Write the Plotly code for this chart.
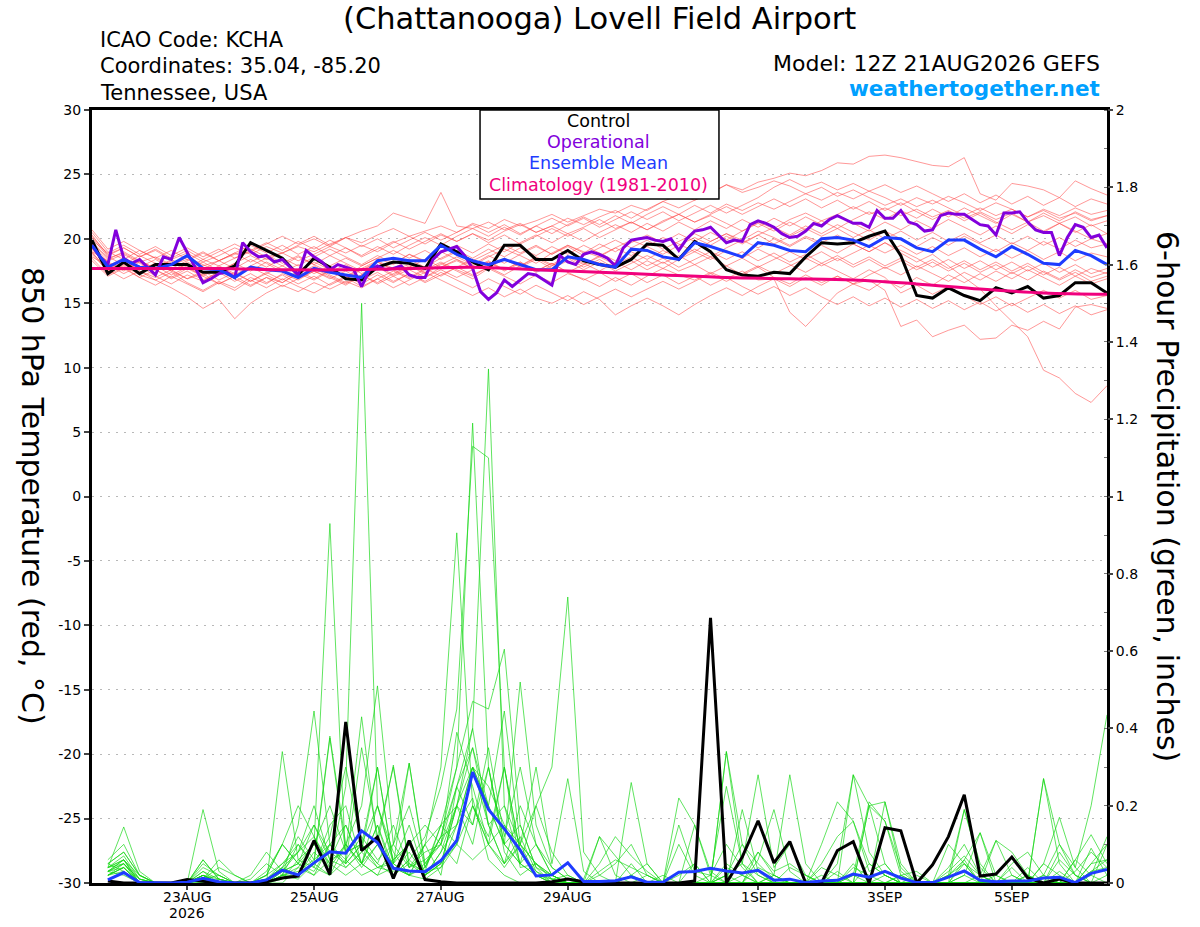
import numpy as np
import pandas as pd
import plotly.graph_objects as go

START = pd.Timestamp("2026-08-21 12:00")
END = pd.Timestamp("2026-09-06 12:00")

# 850 hPa temperature (deg C), 6-hourly from 12Z 21AUG (0h .. 384h)
control_temp = [
    19.9, 17.3, 18.2, 17.3, 18.0, 18.0, 18.0, 17.4, 17.4, 17.9, 19.7, 19.1, 18.5,
    17.2, 18.5, 17.8, 16.9, 16.8, 17.8, 18.2, 18.1, 17.7, 19.6, 19.0, 18.2, 17.6,
    19.5, 19.5, 18.4, 18.4, 19.1, 18.3, 18.0, 17.8, 18.4, 19.6, 19.5, 18.4, 19.8,
    19.0, 17.6, 17.2, 17.1, 17.4, 17.3, 18.6, 19.7, 19.6, 19.7, 20.2, 20.6, 18.7,
    15.6, 15.4, 16.2, 15.6, 15.2, 16.2, 15.8, 16.3, 15.4, 15.6, 16.6, 16.6, 15.8,
]
mean_temp = [
    19.5, 17.8, 18.4, 17.8, 17.7, 18.0, 18.7, 17.7, 17.6, 17.0, 17.8, 17.6, 17.5,
    17.0, 17.7, 17.4, 17.2, 17.0, 18.3, 18.5, 18.3, 18.3, 19.5, 18.8, 18.3, 18.0,
    18.4, 18.0, 17.6, 17.6, 18.6, 18.4, 18.0, 17.8, 19.2, 19.1, 18.6, 18.4, 19.7,
    19.4, 19.0, 18.6, 19.7, 19.5, 19.1, 19.0, 20.0, 20.1, 19.9, 19.4, 20.1, 20.0,
    19.3, 19.0, 19.9, 19.9, 19.2, 18.6, 19.4, 18.8, 18.1, 18.0, 19.1, 18.7, 18.0,
]
# operational run, 3-hourly
oper_temp = [
    19.5, 18.6, 18.0, 20.7, 18.5, 18.1, 18.4, 17.8, 17.2, 18.6, 18.4, 20.1, 19.0, 17.8, 16.6, 16.9,
    17.3, 17.4, 17.0, 19.7, 19.0, 18.6, 18.7, 18.2, 18.4, 17.8, 17.2, 19.1, 18.6, 18.2, 17.6, 18.0,
    17.8, 17.6, 16.3, 17.6, 17.9, 17.6, 17.7, 17.9, 17.2, 17.0, 17.0, 18.4, 19.0, 19.2, 19.4, 18.7,
    17.7, 15.9, 15.3, 15.8, 16.8, 16.3, 16.8, 17.3, 17.2, 16.8, 16.4, 18.7, 18.2, 18.0, 18.8, 19.0,
    18.8, 18.5, 17.9, 19.3, 19.9, 20.0, 20.1, 19.9, 19.8, 20.0, 19.1, 20.0, 20.6, 20.7, 20.9, 20.3,
    19.7, 19.9, 19.8, 21.1, 21.4, 21.2, 20.9, 20.4, 20.1, 20.2, 20.6, 21.2, 21.0, 21.5, 21.8, 21.5,
    21.2, 21.2, 20.9, 22.2, 21.6, 21.6, 22.2, 21.3, 21.1, 20.6, 20.7, 21.8, 22.0, 21.9, 21.9, 21.5,
    21.1, 21.0, 20.3, 22.0, 22.0, 22.1, 21.3, 20.7, 20.5, 20.5, 18.7, 20.1, 21.1, 20.9, 20.1, 20.3,
    19.3,
]
# 1981-2010 climatology, daily
clim_temp = [17.7, 17.7, 17.7, 17.6, 17.6, 17.7, 17.8, 17.6, 17.4,
             17.2, 17.0, 16.9, 16.8, 16.5, 16.1, 15.8, 15.7]

member_temp = [
    [19.8, 18.5, 18.9, 18.2, 18.6, 18.0, 18.4, 17.9, 18.3, 18.8, 19.2, 18.6, 18.9,
     19.4, 19.0, 19.6, 20.1, 19.7, 20.3, 20.8, 20.2, 20.6, 21.0, 20.5, 21.2, 20.8,
     21.5, 21.0, 21.4, 21.9, 21.3, 21.8, 22.3, 22.0, 22.6, 22.2, 22.9, 23.4, 23.0,
     23.6, 24.2, 23.8, 24.4, 24.7, 25.1, 24.9, 25.3, 25.9, 25.8, 26.4, 26.5, 26.3,
     26.0, 25.7, 25.6, 26.3, 23.5, 23.0, 24.3, 24.1, 23.8, 23.2, 24.5, 23.9, 23.4],
    [19.2, 17.8, 18.4, 17.5, 17.0, 17.6, 16.9, 17.3, 16.5, 17.1, 17.8, 17.2, 16.6,
     17.4, 18.2, 17.6, 17.0, 17.9, 18.5, 18.0, 18.8, 18.3, 19.0, 18.4, 17.9, 18.6,
     19.2, 18.7, 18.1, 18.9, 19.5, 19.0, 18.6, 19.3, 19.9, 19.4, 20.1, 19.6, 19.0,
     19.8, 20.4, 19.9, 20.6, 20.1, 19.5, 20.2, 19.7, 20.3, 19.6, 19.0, 19.7, 18.9,
     18.2, 18.8, 17.9, 17.0, 16.1, 14.8, 13.6, 12.4, 9.8, 9.2, 8.0, 7.3, 8.6],
    [18.8, 17.5, 17.9, 17.2, 16.8, 17.4, 16.6, 16.0, 16.7, 16.2, 17.0, 16.5, 17.3,
     16.8, 17.5, 17.0, 16.4, 17.2, 17.8, 17.1, 17.6, 17.0, 17.8, 18.3, 17.7, 18.2,
     17.5, 18.1, 17.4, 17.9, 18.5, 17.8, 18.4, 17.7, 18.3, 17.6, 18.2, 17.5, 18.0,
     17.3, 17.9, 17.2, 17.8, 17.0, 16.5, 17.2, 16.6, 17.1, 16.5, 16.8, 16.0, 13.2,
     13.7, 12.4, 12.9, 13.3, 12.2, 12.3, 13.3, 12.9, 13.6, 13.0, 14.7, 14.9, 14.6],
    [19.5, 18.0, 17.3, 17.9, 17.1, 16.5, 17.2, 16.7, 17.5, 16.9, 16.3, 17.0, 16.6,
     17.3, 16.8, 17.5, 16.9, 17.6, 18.2, 17.6, 18.0, 17.4, 18.1, 17.5, 16.9, 17.7,
     17.1, 16.5, 17.2, 16.6, 17.3, 16.9, 16.3, 17.0, 16.4, 17.1, 17.7, 17.2, 16.8,
     17.4, 16.9, 17.5, 16.8, 16.9, 14.3, 13.2, 14.5, 15.8, 16.5, 16.0, 16.8, 16.2,
     17.0, 16.4, 17.2, 16.6, 17.3, 16.7, 17.4, 16.8, 17.5, 16.9, 17.6, 17.0, 17.4],
    [20.2, 18.8, 19.3, 18.6, 19.1, 18.4, 18.9, 18.2, 18.7, 19.3, 18.8, 19.4, 18.9,
     19.5, 20.0, 19.4, 20.1, 20.6, 21.0, 22.0, 21.6, 21.2, 23.6, 21.0, 20.8, 21.3,
     20.7, 21.2, 20.5, 21.0, 20.4, 20.9, 21.5, 20.8, 21.3, 20.7, 21.4, 21.9, 21.3,
     21.8, 21.2, 20.6, 21.3, 20.8, 21.5, 22.0, 21.4, 21.9, 22.5, 21.9, 22.4, 21.8,
     22.3, 21.7, 22.2, 21.6, 22.1, 21.5, 22.0, 21.3, 21.8, 21.2, 21.7, 21.0, 21.4],
    [19.0, 18.3, 18.8, 18.1, 17.6, 18.2, 17.7, 18.4, 17.9, 18.5, 19.0, 18.4, 18.9,
     18.3, 18.8, 19.4, 18.9, 19.5, 19.0, 19.7, 20.2, 19.6, 20.3, 19.8, 20.4, 19.9,
     20.6, 21.1, 20.5, 21.0, 21.6, 21.1, 21.7, 22.2, 21.6, 22.3, 22.9, 22.4, 23.0,
     23.5, 24.2, 23.6, 24.0, 24.5, 24.1, 23.5, 24.0, 23.3, 23.8, 23.2, 22.6, 23.1,
     22.5, 23.0, 22.4, 21.8, 22.4, 21.8, 22.3, 21.7, 22.2, 21.6, 22.0, 21.4, 21.8],
    [18.5, 17.2, 17.8, 17.0, 16.4, 17.1, 16.5, 15.9, 16.6, 16.0, 16.8, 16.2, 16.9,
     16.3, 15.8, 16.5, 17.1, 16.5, 17.2, 16.6, 17.3, 16.7, 17.4, 16.8, 16.2, 16.9,
     16.3, 15.7, 16.4, 15.8, 15.2, 15.9, 15.3, 14.1, 14.8, 15.4, 14.8, 14.1, 14.9,
     15.6, 16.2, 15.6, 16.3, 16.9, 16.3, 17.0, 16.4, 17.1, 16.5, 17.2, 17.8, 17.2,
     17.9, 17.3, 16.7, 17.4, 16.8, 17.5, 16.9, 17.6, 17.0, 16.4, 17.1, 16.5, 16.9],
    [19.3, 17.6, 16.9, 17.5, 16.8, 16.2, 15.5, 14.6, 15.3, 13.8, 15.0, 15.8, 16.4,
     15.9, 16.6, 16.1, 16.7, 16.2, 16.9, 17.5, 16.9, 17.6, 18.2, 17.6, 17.1, 17.8,
     17.2, 17.9, 18.5, 17.9, 18.6, 18.0, 18.7, 19.3, 18.7, 19.4, 18.8, 19.5, 20.1,
     19.5, 20.2, 19.6, 20.3, 20.9, 20.3, 21.0, 20.4, 21.1, 20.5, 19.9, 20.6, 20.0,
     19.4, 20.1, 19.5, 20.2, 19.6, 19.0, 19.7, 19.1, 19.8, 19.2, 19.9, 19.3, 19.6],
    [20.5, 19.0, 18.4, 19.1, 18.5, 17.9, 18.6, 18.0, 17.4, 18.1, 17.5, 18.2, 17.6,
     17.0, 17.7, 17.1, 16.5, 17.2, 16.6, 17.3, 17.9, 17.3, 18.0, 18.6, 18.0, 18.7,
     18.1, 18.8, 19.4, 18.8, 19.5, 18.9, 19.6, 19.0, 19.7, 20.3, 19.7, 20.4, 19.8,
     20.5, 19.9, 20.6, 21.2, 20.6, 21.3, 20.7, 21.4, 20.8, 21.5, 22.1, 21.5, 22.2,
     21.6, 22.3, 21.7, 22.4, 21.8, 21.2, 21.9, 21.3, 22.0, 21.4, 22.1, 21.5, 21.8],
    [19.6, 18.2, 17.6, 18.3, 17.7, 18.4, 17.8, 17.2, 17.9, 17.3, 16.7, 17.4, 16.8,
     17.5, 16.9, 17.6, 17.0, 17.7, 18.3, 17.7, 18.4, 17.8, 18.5, 19.1, 18.5, 19.2,
     18.6, 19.3, 18.7, 19.4, 18.8, 19.5, 18.9, 18.3, 19.0, 18.4, 19.1, 18.5, 19.2,
     18.6, 19.3, 19.9, 19.3, 20.0, 19.4, 20.1, 19.5, 18.9, 19.6, 19.0, 19.7, 19.1,
     18.5, 17.8, 18.4, 17.7, 18.3, 17.6, 18.2, 17.5, 18.1, 17.4, 18.0, 17.3, 17.7],
    [19.9, 18.9, 19.5, 18.8, 19.4, 18.7, 19.3, 18.6, 19.2, 18.5, 19.1, 19.7, 19.1,
     19.8, 19.2, 19.9, 19.3, 18.7, 19.4, 18.8, 19.5, 20.1, 19.5, 20.2, 20.8, 20.2,
     20.9, 20.3, 21.0, 20.4, 21.1, 21.7, 21.1, 21.8, 21.2, 21.9, 22.5, 21.9, 22.6,
     22.0, 22.7, 22.2, 22.8, 22.3, 22.9, 23.5, 23.0, 23.6, 23.1, 23.7, 23.2, 22.6,
     23.2, 22.7, 23.3, 22.8, 22.2, 22.8, 22.3, 21.7, 22.3, 21.8, 22.4, 21.9, 22.2],
    [18.9, 17.7, 18.2, 17.6, 18.1, 17.5, 16.9, 17.5, 16.8, 17.4, 16.7, 17.3, 17.9,
     17.3, 17.9, 17.2, 16.6, 17.2, 16.5, 17.1, 16.4, 17.0, 17.6, 17.0, 17.6, 18.2,
     17.6, 18.2, 17.5, 18.1, 17.4, 16.8, 17.4, 16.7, 17.3, 16.6, 17.2, 16.5, 17.1,
     16.4, 17.0, 16.3, 15.7, 16.3, 15.6, 16.2, 15.5, 14.9, 15.5, 14.8, 15.4, 14.7,
     15.3, 14.6, 15.2, 14.5, 15.1, 14.4, 15.0, 14.3, 14.9, 14.2, 14.8, 14.1, 14.5],
    [20.1, 18.6, 18.0, 18.7, 18.1, 17.5, 18.2, 17.6, 18.3, 17.7, 18.4, 17.8, 18.5,
     17.9, 18.6, 19.2, 18.6, 18.0, 18.7, 18.1, 18.8, 18.2, 18.9, 19.5, 18.9, 19.6,
     19.0, 19.7, 20.3, 19.7, 20.4, 19.8, 20.5, 21.1, 20.5, 21.2, 20.6, 21.3, 20.7,
     21.4, 20.8, 21.5, 20.9, 21.6, 21.0, 21.7, 21.1, 21.8, 21.2, 20.6, 21.3, 20.7,
     21.4, 20.8, 21.5, 20.9, 20.3, 21.0, 20.4, 21.1, 20.5, 21.2, 20.6, 20.0, 20.4],
    [18.6, 17.9, 18.5, 17.8, 18.4, 17.7, 18.3, 18.9, 18.3, 18.9, 18.2, 18.8, 18.1,
     18.7, 18.0, 17.4, 18.0, 17.3, 17.9, 17.2, 17.8, 18.4, 17.8, 18.4, 17.7, 18.3,
     17.6, 18.2, 17.5, 18.1, 17.4, 18.0, 18.6, 18.0, 18.6, 17.9, 18.5, 17.8, 18.4,
     19.0, 18.4, 19.0, 18.3, 18.9, 18.2, 18.8, 18.1, 18.7, 18.0, 18.6, 17.9, 18.5,
     17.8, 18.4, 17.7, 18.3, 17.6, 18.2, 17.5, 18.1, 17.4, 16.8, 17.4, 16.7, 17.1],
    [19.4, 18.1, 17.5, 18.2, 17.6, 17.0, 17.7, 17.1, 17.8, 17.2, 17.9, 18.5, 17.9,
     18.6, 18.0, 18.7, 18.1, 17.5, 18.2, 17.6, 17.0, 17.7, 17.1, 17.8, 18.4, 17.8,
     18.5, 17.9, 18.6, 18.0, 18.7, 18.1, 17.5, 18.2, 17.6, 18.3, 17.7, 18.4, 19.0,
     18.4, 19.1, 18.5, 19.2, 18.6, 18.0, 17.4, 18.1, 17.5, 16.9, 17.6, 17.0, 15.8,
     16.4, 15.7, 16.3, 15.6, 14.9, 15.5, 14.8, 15.4, 16.0, 15.4, 16.0, 15.3, 15.6],
    [20.7, 19.2, 19.8, 19.1, 18.5, 19.1, 18.4, 19.0, 18.3, 18.9, 19.5, 18.9, 19.5,
     18.8, 19.4, 18.7, 19.3, 18.6, 19.2, 19.8, 19.2, 19.8, 20.4, 19.8, 20.4, 19.7,
     20.3, 19.6, 20.2, 20.8, 20.2, 20.8, 20.1, 20.7, 21.3, 20.7, 21.3, 21.9, 21.3,
     21.9, 22.5, 21.9, 22.5, 23.1, 22.5, 23.1, 22.4, 23.0, 22.3, 22.9, 22.2, 22.8,
     22.1, 21.5, 22.1, 21.4, 22.0, 21.3, 20.7, 21.3, 20.6, 21.2, 20.5, 21.1, 20.4],
    [19.0, 17.4, 18.0, 17.3, 17.9, 17.2, 17.8, 17.1, 16.5, 17.1, 16.4, 17.0, 16.3,
     16.9, 17.5, 16.9, 17.5, 16.8, 17.4, 16.7, 17.3, 16.6, 17.2, 17.8, 17.2, 17.8,
     18.4, 17.8, 18.4, 17.7, 18.3, 17.6, 18.2, 17.5, 18.1, 18.7, 18.1, 18.7, 18.0,
     18.6, 17.9, 18.5, 17.8, 18.4, 19.0, 18.4, 19.0, 18.3, 18.9, 19.5, 18.9, 19.5,
     18.8, 19.4, 18.7, 19.3, 18.6, 19.2, 18.5, 19.1, 18.4, 19.0, 18.3, 18.9, 18.6],
    [19.7, 18.4, 19.0, 18.3, 17.7, 18.3, 17.6, 18.2, 17.5, 18.1, 18.7, 18.1, 17.4,
     18.0, 17.3, 17.9, 18.5, 17.9, 18.5, 19.1, 18.5, 19.1, 18.4, 19.0, 18.3, 18.9,
     19.5, 18.9, 19.5, 18.8, 19.4, 18.7, 19.3, 19.9, 19.3, 19.9, 19.2, 19.8, 20.4,
     19.8, 20.4, 19.7, 20.3, 19.6, 20.2, 20.8, 20.2, 20.8, 20.1, 20.7, 20.0, 20.6,
     19.9, 20.5, 19.8, 20.4, 19.7, 20.3, 19.6, 20.2, 19.5, 20.1, 19.4, 20.0, 19.6],
    [18.3, 17.1, 17.7, 17.0, 17.6, 16.9, 17.5, 16.8, 17.4, 16.7, 17.3, 16.6, 17.2,
     16.5, 17.1, 16.4, 17.0, 16.3, 16.9, 16.2, 16.8, 17.4, 16.8, 16.2, 15.6, 16.2,
     15.5, 16.1, 15.4, 15.0, 15.6, 14.9, 15.5, 16.1, 15.5, 16.1, 16.7, 16.1, 16.7,
     17.3, 16.7, 17.3, 17.9, 17.3, 17.9, 18.5, 17.9, 18.5, 17.8, 18.4, 17.7, 18.3,
     17.6, 18.2, 17.5, 18.1, 17.4, 18.0, 17.3, 17.9, 17.2, 17.8, 17.1, 17.7, 17.3],
    [20.3, 18.7, 19.3, 18.6, 19.2, 18.5, 19.1, 18.4, 19.0, 19.6, 19.0, 19.6, 20.2,
     19.6, 20.2, 19.5, 20.1, 19.4, 20.0, 19.3, 19.9, 20.5, 19.9, 20.5, 21.1, 20.5,
     21.1, 20.4, 21.0, 21.6, 21.0, 21.6, 20.9, 21.5, 22.1, 21.5, 22.1, 21.4, 22.0,
     22.6, 22.0, 22.6, 23.2, 24.0, 24.6, 24.0, 24.4, 23.8, 24.3, 23.7, 24.2, 23.6,
     24.1, 23.5, 22.9, 23.5, 22.8, 23.4, 22.7, 23.3, 22.6, 23.2, 22.5, 23.1, 22.7],
]

# 6-hour precipitation (inches), 6h .. 384h
control_precip = [
    0.005, 0, 0, 0, 0, 0.009, 0.004, 0, 0, 0, 0.003, 0.013, 0.018, 0.11, 0.022, 0.417,
    0.084, 0.119, 0.012, 0.11, 0.009, 0.003, 0, 0, 0, 0, 0, 0, 0.003, 0.01, 0.003, 0,
    0, 0, 0, 0, 0, 0.005, 0.686, 0, 0.067, 0.161, 0.052, 0.107, 0, 0, 0.084, 0.107,
    0, 0.143, 0.135, 0, 0.047, 0.12, 0.228, 0.018, 0.023, 0.067, 0.013, 0, 0.01, 0, 0, 0,
]
mean_precip = [
    0.008, 0.027, 0.001, 0, 0, 0.002, 0.012, 0.003, 0, 0, 0.008, 0.033, 0.021, 0.052, 0.081, 0.077,
    0.135, 0.105, 0.038, 0.031, 0.029, 0.058, 0.11, 0.287, 0.19, 0.14, 0.085, 0.018, 0.021, 0.052, 0.004, 0.004,
    0.006, 0.016, 0.002, 0.002, 0.028, 0.03, 0.038, 0.031, 0.026, 0.033, 0.007, 0.01, 0.001, 0.005, 0.007, 0.023,
    0.015, 0.03, 0.013, 0.001, 0.001, 0.015, 0.031, 0.007, 0.003, 0.005, 0.005, 0.013, 0.015, 0.001, 0.025, 0.035,
]
member_precip = [
    [0.03, 0.06, 0, 0, 0, 0, 0.02, 0, 0, 0, 0.01, 0.05, 0.08, 0.12, 0.04, 0.25,
     1.50, 0.20, 0.06, 0.10, 0.02, 0.08, 0.15, 0.22, 0.06, 0.02, 0, 0, 0, 0.01, 0, 0,
     0, 0, 0.02, 0, 0, 0, 0, 0.05, 0.02, 0, 0, 0, 0, 0, 0.03, 0,
     0, 0, 0, 0, 0, 0.04, 0.1, 0.02, 0, 0, 0, 0, 0.03, 0, 0, 0.02],
    [0.05, 0.08, 0.02, 0, 0, 0, 0.06, 0.01, 0, 0, 0.02, 0.1, 0.05, 0.1, 0.93, 0.05,
     0.35, 0.12, 0.3, 0.04, 0.1, 0.02, 0.25, 0.4, 0.15, 0.05, 0.1, 0.02, 0, 0, 0, 0,
     0, 0.05, 0, 0, 0.1, 0.02, 0, 0, 0, 0.08, 0.02, 0, 0, 0, 0, 0.05,
     0, 0.02, 0, 0, 0, 0, 0, 0, 0, 0.04, 0, 0, 0, 0, 0.05, 0.1],
    [0.04, 0.145, 0.03, 0, 0, 0, 0.02, 0, 0, 0, 0, 0.03, 0.08, 0.2, 0.06, 0.15,
     0.05, 0.2, 0.08, 0.02, 0.1, 0.15, 0.3, 1.19, 0.3, 0.1, 0.05, 0.2, 0.08, 0.02, 0, 0,
     0, 0, 0, 0, 0, 0, 0.02, 0.1, 0.04, 0, 0, 0, 0, 0.02, 0, 0,
     0.05, 0.02, 0, 0, 0, 0, 0, 0, 0, 0, 0, 0, 0, 0.03, 0.08, 0.04],
    [0.02, 0.04, 0, 0, 0, 0, 0.19, 0.03, 0, 0, 0, 0, 0.04, 0.1, 0.2, 0.08,
     0.1, 0.04, 0.05, 0.15, 0.02, 0.05, 0.2, 0.4, 1.33, 0.2, 0.1, 0.05, 0.02, 0, 0, 0,
     0, 0, 0, 0.02, 0, 0, 0, 0, 0, 0.06, 0.19, 0.03, 0, 0, 0, 0,
     0, 0, 0, 0.02, 0, 0, 0, 0, 0.02, 0, 0, 0, 0.06, 0.02, 0, 0],
    [0.03, 0.05, 0, 0, 0, 0, 0.05, 0.02, 0, 0, 0, 0.02, 0.01, 0.05, 0.12, 0.3,
     0.1, 0.05, 0.02, 0.06, 0.12, 0.25, 0.45, 1.13, 1.10, 0.3, 0.08, 0.02, 0, 0, 0, 0.02,
     0.05, 0.1, 0.02, 0, 0, 0, 0, 0, 0, 0, 0.02, 0, 0, 0, 0.05, 0.28,
     0.08, 0.02, 0, 0, 0, 0, 0, 0.02, 0, 0, 0.04, 0, 0, 0, 0, 0],
    [0.06, 0.1, 0.02, 0, 0, 0, 0.01, 0.06, 0.02, 0, 0.01, 0.04, 0.12, 0.06, 0.38, 0.1,
     0.05, 0.15, 0.04, 0.02, 0.1, 0.3, 0.906, 0.2, 0.1, 0.15, 0.05, 0.02, 0.01, 0, 0, 0,
     0, 0, 0, 0, 0.22, 0.15, 0.03, 0, 0, 0, 0, 0, 0, 0, 0, 0,
     0, 0.21, 0.05, 0, 0, 0, 0.02, 0.13, 0, 0, 0, 0.02, 0, 0, 0.03, 0.06],
    [0.02, 0.03, 0, 0, 0, 0, 0, 0, 0, 0.02, 0.08, 0.03, 0.05, 0.03, 0.1, 0.04,
     0.08, 0.3, 0.05, 0.31, 0.04, 0.12, 0.3, 0.47, 0.45, 0.605, 0.15, 0.04, 0, 0, 0, 0,
     0, 0, 0, 0, 0, 0, 0, 0.02, 0.1, 0.05, 0.01, 0, 0, 0, 0, 0,
     0.2, 0.21, 0.03, 0, 0, 0, 0, 0, 0, 0, 0, 0.02, 0.1, 0.02, 0, 0],
    [0.04, 0.07, 0.01, 0, 0, 0, 0.03, 0.01, 0, 0, 0, 0.34, 0.06, 0.04, 0.02, 0.1,
     0.04, 0.1, 0.305, 0.05, 0.02, 0.05, 0.2, 0.15, 0.3, 0.1, 0.52, 0.15, 0.04, 0.01, 0, 0,
     0, 0.02, 0.05, 0, 0, 0, 0, 0, 0, 0.04, 0.02, 0.28, 0.05, 0, 0, 0,
     0, 0, 0.02, 0, 0, 0, 0.06, 0, 0, 0, 0, 0.05, 0.17, 0.04, 0, 0],
    [0.03, 0.06, 0, 0, 0, 0, 0.01, 0.04, 0.02, 0, 0, 0.02, 0.15, 0.445, 0.1, 0.06,
     0.12, 0.06, 0.1, 0.04, 0.08, 0.1, 0.39, 0.25, 0.1, 0.04, 0.1, 0.2, 0.3, 0.74, 0.08, 0.02,
     0, 0, 0, 0, 0, 0, 0, 0, 0, 0, 0, 0, 0, 0.04, 0.02, 0,
     0, 0, 0, 0, 0, 0.02, 0.06, 0.13, 0.02, 0, 0, 0.27, 0.05, 0, 0, 0],
    [0.02, 0.04, 0, 0, 0, 0, 0.02, 0, 0, 0, 0.03, 0.1, 0.2, 0.12, 0.05, 0.1,
     0.2, 0.51, 0.1, 0.31, 0.05, 0.12, 0.25, 0.35, 0.2, 0.445, 0.1, 0.3, 0.05, 0.27, 0.03, 0,
     0, 0, 0, 0, 0, 0, 0, 0.04, 0.02, 0.08, 0.03, 0.05, 0.02, 0, 0, 0.02,
     0, 0, 0, 0, 0, 0, 0, 0, 0, 0.05, 0.08, 0.02, 0, 0, 0.02, 0.12],
    [0.05, 0.03, 0, 0, 0, 0, 0, 0, 0, 0.01, 0.05, 0.02, 0.1, 0.05, 0.375, 0.08,
     0.43, 0.1, 0.05, 0.02, 0.04, 0.15, 0.1, 0.3, 0.15, 0.2, 0.05, 0.1, 0.02, 0, 0.01, 0.12,
     0.07, 0.02, 0, 0, 0.15, 0.03, 0.02, 0.25, 0.05, 0.02, 0, 0, 0, 0, 0, 0,
     0, 0, 0, 0, 0, 0, 0.05, 0, 0.11, 0.02, 0, 0, 0, 0, 0, 0],
    [0.04, 0.05, 0.01, 0, 0, 0, 0.04, 0.02, 0, 0, 0.02, 0.1, 0.05, 0.15, 0.08, 0.05,
     0.1, 0.05, 0.15, 0.04, 0.06, 0.1, 0.05, 0.2, 0.12, 0.3, 0.04, 0.05, 0.02, 0, 0, 0.03,
     0.06, 0.04, 0.02, 0, 0, 0, 0, 0.34, 0.1, 0.02, 0, 0, 0, 0, 0, 0,
     0.2, 0.16, 0.04, 0, 0, 0, 0.19, 0.05, 0, 0, 0, 0, 0, 0.06, 0.02, 0],
    [0.03, 0.04, 0, 0, 0, 0, 0.01, 0, 0, 0, 0.01, 0.04, 0.02, 0.05, 0.02, 0.06,
     0.02, 0.04, 0.03, 0.08, 0.02, 0.05, 0.1, 0.06, 0.1, 0.05, 0.12, 0.03, 0.01, 0, 0, 0,
     0, 0.02, 0, 0, 0, 0, 0, 0, 0.02, 0, 0, 0, 0, 0, 0, 0.04,
     0.02, 0, 0, 0, 0, 0.03, 0.07, 0.02, 0, 0, 0, 0.27, 0.1, 0.04, 0.2, 0.435],
    [0.02, 0.05, 0.01, 0, 0, 0, 0.03, 0, 0, 0, 0, 0.02, 0.04, 0.02, 0.06, 0.04,
     0.08, 0.04, 0.06, 0.1, 0.03, 0.15, 0.2, 0.1, 0.3, 0.08, 0.02, 0.05, 0.01, 0.02, 0, 0,
     0, 0, 0, 0, 0, 0, 0, 0.34, 0.05, 0, 0, 0.04, 0.02, 0, 0, 0.02,
     0.21, 0.16, 0.02, 0, 0, 0.02, 0.05, 0, 0, 0, 0.02, 0, 0, 0, 0.09, 0.02],
    [0.03, 0.02, 0, 0, 0, 0, 0, 0.01, 0, 0, 0, 0.01, 0.06, 0.1, 0.05, 0.02,
     0.05, 0.02, 0.04, 0.02, 0.01, 0.04, 0.15, 0.3, 0.2, 0.1, 0.05, 0.02, 0, 0, 0, 0.05,
     0.12, 0.07, 0.03, 0, 0, 0, 0, 0.02, 0.05, 0.28, 0.04, 0.1, 0.02, 0, 0, 0,
     0, 0, 0, 0, 0, 0, 0, 0, 0, 0, 0, 0, 0, 0, 0.03, 0.04],
    [0.04, 0.06, 0.02, 0, 0, 0, 0.02, 0, 0, 0, 0.02, 0.05, 0.1, 0.04, 0.15, 0.2,
     0.05, 0.15, 0.02, 0.06, 0.02, 0.08, 0.2, 0.35, 0.15, 0.05, 0.2, 0.1, 0.02, 0, 0, 0,
     0, 0.26, 0.05, 0, 0, 0.15, 0.02, 0, 0, 0, 0, 0, 0, 0, 0, 0.28,
     0.2, 0.05, 0, 0, 0, 0, 0, 0, 0, 0, 0, 0.05, 0.02, 0, 0, 0],
    [0.05, 0.08, 0.02, 0, 0, 0, 0.01, 0.02, 0, 0, 0, 0.02, 0.03, 0.06, 0.1, 0.05,
     0.1, 0.2, 0.05, 0.02, 0.05, 0.1, 0.25, 0.15, 0.35, 0.12, 0.3, 0.1, 0.04, 0.01, 0, 0,
     0, 0, 0, 0, 0, 0, 0, 0, 0, 0, 0, 0, 0, 0.05, 0.12, 0.16,
     0.05, 0.02, 0, 0, 0, 0.1, 0.05, 0.02, 0.11, 0.08, 0.02, 0, 0, 0, 0.05, 0.06],
    [0.02, 0.04, 0, 0, 0, 0, 0.06, 0.01, 0, 0, 0, 0.03, 0.05, 0.02, 0.1, 0.15,
     0.05, 0.02, 0.1, 0.2, 0.04, 0.12, 0.15, 0.3, 0.25, 0.15, 0.1, 0.05, 0.01, 0, 0, 0.12,
     0.02, 0, 0, 0, 0.02, 0.05, 0, 0, 0.19, 0.03, 0, 0, 0, 0, 0, 0,
     0, 0, 0.02, 0.03, 0, 0, 0.02, 0, 0, 0.02, 0, 0, 0, 0.06, 0.125, 0.05],
    [0.03, 0.05, 0, 0, 0, 0, 0.02, 0, 0, 0, 0, 0.02, 0.02, 0.08, 0.04, 0.1,
     0.05, 0.1, 0.02, 0.05, 0.03, 0.04, 0.1, 0.2, 0.1, 0.3, 0.08, 0.03, 0, 0, 0, 0,
     0, 0, 0, 0, 0, 0, 0, 0, 0, 0, 0, 0, 0, 0, 0, 0,
     0, 0, 0, 0, 0, 0, 0, 0, 0, 0, 0, 0, 0, 0, 0, 0],
    [0.04, 0.06, 0.01, 0, 0, 0, 0.02, 0.01, 0, 0, 0.01, 0.04, 0.08, 0.15, 0.06, 0.08,
     0.1, 0.3, 0.05, 0.1, 0.15, 0.1, 0.2, 0.3, 0.2, 0.1, 0.15, 0.04, 0.02, 0, 0, 0,
     0, 0, 0, 0, 0, 0.05, 0, 0.02, 0, 0, 0.02, 0, 0, 0.1, 0.21, 0.16,
     0.03, 0.05, 0, 0, 0, 0.02, 0.19, 0.04, 0, 0, 0.02, 0, 0.08, 0.02, 0, 0.1],
]

tick_dates = ["2026-08-23", "2026-08-25", "2026-08-27", "2026-08-29",
              "2026-09-01", "2026-09-03", "2026-09-05"]
tick_text = ["23AUG", "25AUG", "27AUG", "29AUG", "1SEP", "3SEP", "5SEP"]
year_text = "2026"
temp_ticks = [-30, -25, -20, -15, -10, -5, 0, 5, 10, 15, 20, 25, 30]
temp_tick_text = ["-30", "-25", "-20", "-15", "-10", "-5", "0",
                  "5", "10", "15", "20", "25", "30"]

FONT = "DejaVu Sans, Verdana, sans-serif"
C_OPER = "rgb(130,0,220)"
C_MEAN = "rgb(30,60,255)"
C_CLIM = "rgb(240,0,125)"


def times(n, step_h, first_h=0):
    return START + pd.to_timedelta(first_h + step_h * np.arange(n), unit="h")


def line(x, y, color, width, yaxis="y"):
    return go.Scatter(x=x, y=y, mode="lines", yaxis=yaxis,
                      line=dict(color=color, width=width),
                      hoverinfo="skip", showlegend=False)


def label(text, x, y, size, color="black", xanchor="center", angle=0, xref="paper"):
    fig.add_annotation(text=text, x=x, y=y, xref=xref, yref="paper",
                       xanchor=xanchor, yanchor="middle", textangle=angle,
                       showarrow=False, font=dict(size=size, color=color))


fig = go.Figure()

for m in member_temp:
    fig.add_trace(line(times(len(m), 6), m, "rgba(255,70,70,0.7)", 0.8))
for m in member_precip:
    fig.add_trace(line(times(len(m), 6, 6), m, "rgba(20,215,20,0.85)", 0.8, "y2"))

fig.add_trace(line(times(len(control_precip), 6, 6), control_precip, "black", 3, "y2"))
fig.add_trace(line(times(len(mean_precip), 6, 6), mean_precip, C_MEAN, 3, "y2"))

fig.add_trace(line(times(len(control_temp), 6), control_temp, "black", 3))
fig.add_trace(line(times(len(oper_temp), 3), oper_temp, C_OPER, 3))
fig.add_trace(line(times(len(mean_temp), 6), mean_temp, C_MEAN, 3))
clim = line(times(len(clim_temp), 24), clim_temp, C_CLIM, 3)
clim.line.shape = "spline"
fig.add_trace(clim)

fig.update_layout(
    width=1200, height=927,
    margin=dict(l=92, r=93, t=110, b=44),
    paper_bgcolor="white", plot_bgcolor="white",
    font=dict(family=FONT, color="black", size=14),
    xaxis=dict(
        range=[START, END], tickvals=pd.to_datetime(tick_dates), showticklabels=False,
        showgrid=False, zeroline=False, showline=True, mirror=True, automargin=False,
        linecolor="black", linewidth=3, ticks="outside", ticklen=4, tickwidth=1.5,
    ),
    yaxis=dict(
        range=[-30, 30], tickvals=temp_ticks, ticktext=temp_tick_text,
        showgrid=True, gridcolor="#b8b8b8",
        griddash="2px,6px", gridwidth=1, zeroline=False, showline=True, mirror=True,
        automargin=False, linecolor="black", linewidth=3, ticks="outside",
        ticklen=5, tickwidth=1.5, tickfont=dict(size=14),
    ),
    yaxis2=dict(
        range=[0, 2], dtick=0.2, tick0=0, overlaying="y", side="right",
        showgrid=False, zeroline=False, showline=False, automargin=False,
        ticks="outside", ticklen=5, tickwidth=1.5, tickfont=dict(size=14),
        minor=dict(dtick=0.1, ticks="inside", ticklen=3, tickwidth=1,
                   tickcolor="#777"),
    ),
)

# date labels under the x ticks, placed on the x axis scale
for d, txt in zip(tick_dates, tick_text):
    label(txt, pd.Timestamp(d), -0.0181, 14, xref="x")
label(year_text, pd.Timestamp(tick_dates[0]), -0.0388, 14, xref="x")

# legend box
fig.add_shape(type="rect", xref="paper", yref="paper",
              x0=0.3823, x1=0.6177, y0=0.8849, y1=1.0,
              line=dict(color="black", width=1.5), fillcolor="white", layer="above")
label("Control", 0.4995, 0.9858, 17.5)
label("Operational", 0.4995, 0.9586, 17.5, C_OPER)
label("Ensemble Mean", 0.4995, 0.9314, 17.5, C_MEAN)
label("Climatology (1981-2010)", 0.4995, 0.9030, 17.5, C_CLIM)

# header texts
label("(Chattanooga) Lovell Field Airport", 0.5, 1.1178, 30.5)
label("ICAO Code: KCHA", 0.0059, 1.0905, 21, xanchor="left")
label("Coordinates: 35.04, -85.20", 0.0059, 1.057, 21, xanchor="left")
label("Tennessee, USA", 0.0059, 1.022, 21, xanchor="left")
label("Model: 12Z 21AUG2026 GEFS", 0.9951, 1.0608, 22, xanchor="right")
label("<b>weathertogether.net</b>", 0.9951, 1.0272, 21.5, "rgb(0,160,255)", "right")

# axis titles
label("850 hPa Temperature (red, °C)", -0.0581, 0.5006, 30, angle=90)
label("6-hour Precipitation (green, inches)", 1.0601, 0.5006, 30, angle=90)

fig.write_html("out.html", config={"displayModeBar": False},
               post_script="document.body.style.margin='0';")
